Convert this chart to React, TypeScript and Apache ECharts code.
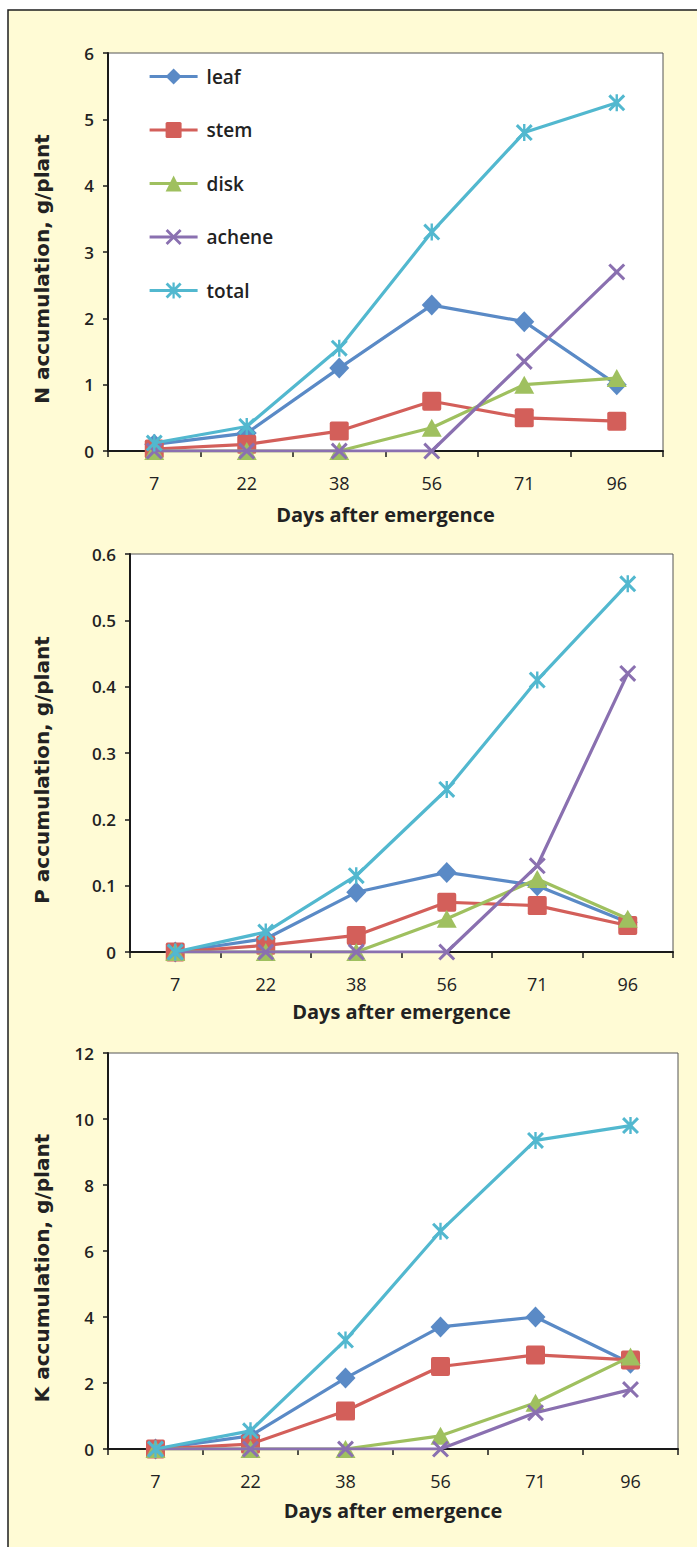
import React, { useEffect, useRef } from 'react';
import * as echarts from 'echarts';

const categories = ['7', '22', '38', '56', '71', '96'];
const seriesNames = ['leaf', 'stem', 'disk', 'achene', 'total'];

// N accumulation, g/plant
const nLeaf = [0.1, 0.27, 1.25, 2.2, 1.95, 1.0];
const nStem = [0.03, 0.1, 0.3, 0.75, 0.5, 0.45];
const nDisk = [0, 0, 0, 0.35, 1.0, 1.1];
const nAchene = [0, 0, 0, 0, 1.35, 2.7];
const nTotal = [0.12, 0.37, 1.55, 3.3, 4.8, 5.25];

// P accumulation, g/plant
const pLeaf = [0, 0.02, 0.09, 0.12, 0.1, 0.045];
const pStem = [0, 0.01, 0.025, 0.075, 0.07, 0.04];
const pDisk = [0, 0, 0, 0.05, 0.11, 0.05];
const pAchene = [0, 0, 0, 0, 0.13, 0.42];
const pTotal = [0, 0.03, 0.115, 0.245, 0.41, 0.555];

// K accumulation, g/plant
const kLeaf = [0, 0.4, 2.15, 3.7, 4.0, 2.6];
const kStem = [0, 0.15, 1.15, 2.5, 2.85, 2.7];
const kDisk = [0, 0, 0, 0.4, 1.4, 2.8];
const kAchene = [0, 0, 0, 0, 1.1, 1.8];
const kTotal = [0, 0.55, 3.3, 6.6, 9.35, 9.8];

const yTitles = ['N accumulation, g/plant', 'P accumulation, g/plant', 'K accumulation, g/plant'];
const yMax = [6, 0.6, 12];
const yInterval = [1, 0.1, 2];
const xTitle = 'Days after emergence';

const X_PATH =
  'path://M0,2.5L2.5,0L10,7.5L17.5,0L20,2.5L12.5,10L20,17.5L17.5,20L10,12.5L2.5,20L0,17.5L7.5,10Z';
const STAR_PATH =
  'path://M0,2.5L2.5,0L10,7.5L17.5,0L20,2.5L12.5,10L20,17.5L17.5,20L10,12.5L2.5,20L0,17.5L7.5,10Z M8.6,0L11.4,0L11.4,20L8.6,20Z';
const SQUARE_PATH =
  'path://M2,0L18,0Q20,0 20,2L20,18Q20,20 18,20L2,20Q0,20 0,18L0,2Q0,0 2,0Z';

const styles = [
  { color: '#5a8ac6', symbol: 'diamond', size: [20, 21] },
  { color: '#d35f5a', symbol: SQUARE_PATH, size: [19, 19] },
  { color: '#9fc05f', symbol: 'triangle', size: [20, 18] },
  { color: '#8a70b0', symbol: X_PATH, size: [17, 17] },
  { color: '#52b8cf', symbol: STAR_PATH, size: [17, 17] },
];

const FONT = '"Open Sans", Lato, sans-serif';
const TITLE_FONT = '"DejaVu Sans", "Open Sans", sans-serif';

export default function App() {
  const ref = useRef<HTMLDivElement>(null);
  useEffect(() => {
    if (!ref.current) return;
    const chart = echarts.init(ref.current, undefined, { renderer: 'svg' });
    const data = [
      [nLeaf, nStem, nDisk, nAchene, nTotal],
      [pLeaf, pStem, pDisk, pAchene, pTotal],
      [kLeaf, kStem, kDisk, kAchene, kTotal],
    ];
    const grids = [
      { left: 108, top: 53, width: 555, height: 398 },
      { left: 130, top: 554, width: 543, height: 398 },
      { left: 108, top: 1053, width: 570, height: 396 },
    ];
    const yNameGaps = [56, 78, 56];
    const xNameGaps = [53, 49, 51];
    const series: any[] = [];
    data.forEach((group, g) => {
      group.forEach((vals, i) => {
        series.push({
          type: 'line',
          name: seriesNames[i],
          xAxisIndex: g,
          yAxisIndex: g,
          data: vals,
          symbol: styles[i].symbol,
          symbolSize: styles[i].size,
          showAllSymbol: true,
          lineStyle: { width: 3.2, color: styles[i].color },
          itemStyle: { color: styles[i].color },
          emphasis: { disabled: true },
          z: 2 + i,
        });
      });
    });
    const option: any = {
      animation: false,
      backgroundColor: '#ffffff',
      textStyle: { fontFamily: FONT },
      graphic: [
        {
          type: 'rect',
          z: -10,
          silent: true,
          shape: { x: 8, y: 10, width: 720, height: 1560 },
          style: { fill: '#fffbd5', stroke: '#1e1e1e', lineWidth: 1.5 },
        },
      ],
      legend: {
        orient: 'vertical',
        left: 148,
        top: 67,
        padding: 0,
        itemWidth: 48,
        itemHeight: 20,
        itemGap: 34.5,
        data: seriesNames,
        lineStyle: { width: 3.2 },
        textStyle: {
          fontFamily: FONT,
          fontSize: 19,
          fontWeight: 600,
          color: '#222',
          padding: [0, 0, 0, 4],
        },
        selectedMode: false,
      },
      grid: grids.map((gr) => ({
        ...gr,
        show: true,
        backgroundColor: '#ffffff',
        borderColor: '#555',
        borderWidth: 1,
      })),
      xAxis: grids.map((_, g) => ({
        type: 'category',
        gridIndex: g,
        data: categories,
        boundaryGap: true,
        name: xTitle,
        nameLocation: 'middle',
        nameGap: xNameGaps[g],
        nameTextStyle: { fontFamily: FONT, fontSize: 20, fontWeight: 'bold', color: '#222' },
        axisLine: { lineStyle: { color: '#1a1a1a', width: 2 } },
        axisTick: { show: true, length: 6, lineStyle: { color: '#1a1a1a', width: 1.5 } },
        axisLabel: { fontFamily: FONT, fontSize: 18, fontWeight: 500, color: '#222', margin: 23 },
        splitLine: { show: false },
      })),
      yAxis: grids.map((_, g) => ({
        type: 'value',
        gridIndex: g,
        min: 0,
        max: yMax[g],
        interval: yInterval[g],
        name: yTitles[g],
        nameLocation: 'middle',
        nameGap: yNameGaps[g],
        nameTextStyle: {
          fontFamily: TITLE_FONT,
          fontSize: 20,
          fontWeight: 'bold',
          color: '#222',
          padding: [0, 34, 0, 0],
        },
        axisLine: { show: true, lineStyle: { color: '#1a1a1a', width: 2 } },
        axisTick: { show: true, length: 5, lineStyle: { color: '#1a1a1a', width: 1.5 } },
        axisLabel: { fontFamily: FONT, fontSize: 17, fontWeight: 600, color: '#222', margin: 14 },
        splitLine: { show: false },
      })),
      series,
    };
    chart.setOption(option);
    return () => chart.dispose();
  }, []);
  return (
    <div
      ref={ref}
      style={{ position: 'absolute', left: 0, top: 0, width: 697, height: 1547 }}
    />
  );
}
